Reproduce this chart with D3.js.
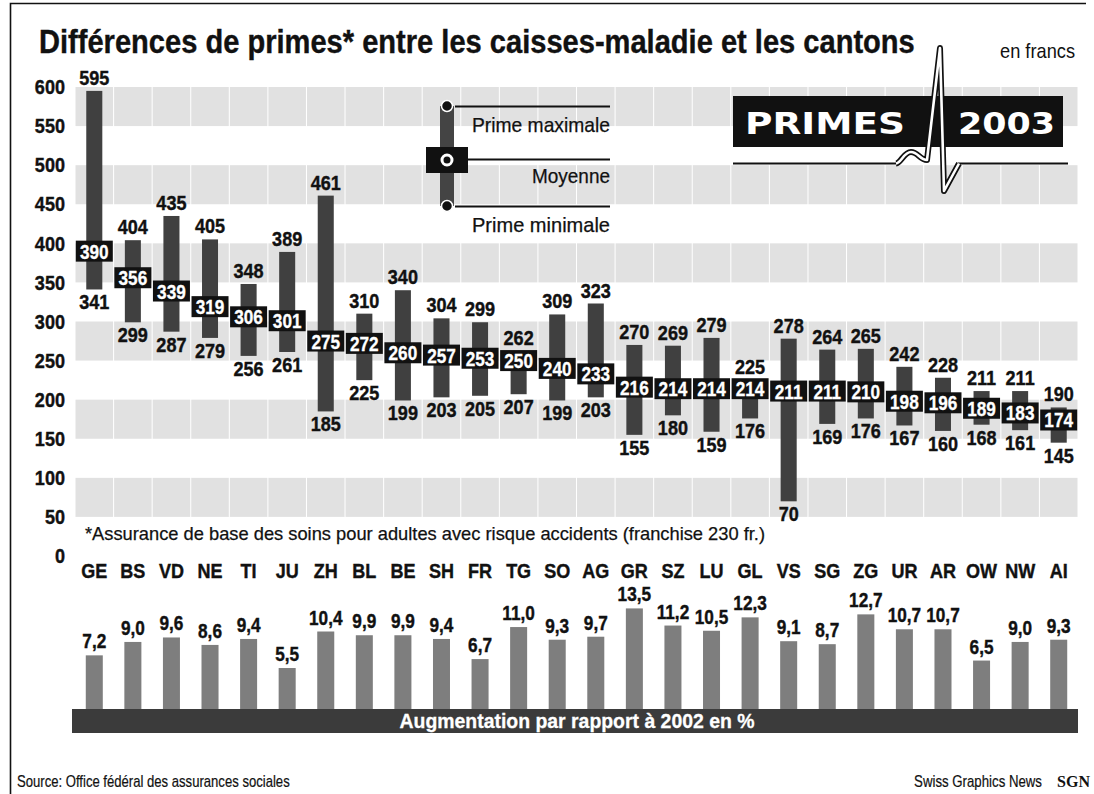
<!DOCTYPE html>
<html>
<head>
<meta charset="utf-8">
<script src="https://cdn.jsdelivr.net/npm/d3@7"></script>
<style>
  html, body { margin: 0; padding: 0; background: #fff; }
  svg { display: block; }
</style>
</head>
<body>
<div id="chart"></div>
<script>
// Cantons, ordered by average premium
const cantons = ["GE","BS","VD","NE","TI","JU","ZH","BL","BE","SH","FR","TG","SO","AG","GR","SZ","LU","GL","VS","SG","ZG","UR","AR","OW","NW","AI"];
// Monthly premiums in francs
const primeMax = [595,404,435,405,348,389,461,310,340,304,299,262,309,323,270,269,279,225,278,264,265,242,228,211,211,190];
const primeMoy = [390,356,339,319,306,301,275,272,260,257,253,250,240,233,216,214,214,214,211,211,210,198,196,189,183,174];
const primeMin = [341,299,287,279,256,261,185,225,199,203,205,207,199,203,155,180,159,176,70,169,176,167,160,168,161,145];
// Increase compared with 2002, in percent
const hausse = [7.2,9.0,9.6,8.6,9.4,5.5,10.4,9.9,9.9,9.4,6.7,11.0,9.3,9.7,13.5,11.2,10.5,12.3,9.1,8.7,12.7,10.7,10.7,6.5,9.0,9.3];
// Axis ticks
const yTicks = [0,50,100,150,200,250,300,350,400,450,500,550,600];
const bandStarts = [550,450,350,250,150,50];

const W = 1094, H = 794;
const SANS = "'Liberation Sans',Arial,Helvetica,sans-serif";

const rows = cantons.map((c, i) => ({ c, max: primeMax[i], moy: primeMoy[i], min: primeMin[i], h: hausse[i] }));

const svg = d3.select("#chart").append("svg").attr("width", W).attr("height", H)
  .style("font-family", SANS);

// Squeeze text horizontally to a condensed look
function condense(sel, k) {
  sel.each(function () {
    const w = this.getComputedTextLength();
    d3.select(this).attr("textLength", w * k).attr("lengthAdjust", "spacingAndGlyphs");
  });
  return sel;
}
// Fit a text to a given width by scaling it horizontally around its anchor
function fitWidth(text, x0, y0, width, anchor) {
  text.attr("x", 0).attr("y", 0).attr("text-anchor", anchor || "start");
  const w = text.node().getComputedTextLength();
  text.attr("transform", `translate(${x0},${y0}) scale(${width / w},1)`);
  return text;
}

// Print grain for the tinted areas
const defs = svg.append("defs");
function grain(id, rgb, a, b, freq) {
  const f = defs.append("filter").attr("id", id).attr("x", 0).attr("y", 0).attr("width", "100%").attr("height", "100%")
    .attr("color-interpolation-filters", "sRGB");
  f.append("feTurbulence").attr("type", "fractalNoise").attr("baseFrequency", freq).attr("numOctaves", 2).attr("seed", 7).attr("result", "noise");
  f.append("feColorMatrix").attr("in", "noise").attr("type", "matrix")
    .attr("values", `0 0 0 0 ${rgb}  0 0 0 0 ${rgb}  0 0 0 0 ${rgb}  ${a} 0 0 0 ${b}`).attr("result", "spk");
  f.append("feComposite").attr("in", "spk").attr("in2", "SourceGraphic").attr("operator", "in").attr("result", "spkIn");
  const m = f.append("feMerge");
  m.append("feMergeNode").attr("in", "SourceGraphic");
  m.append("feMergeNode").attr("in", "spkIn");
}
grain("grainLight", 0, 1.1, -0.52, 1.0);
grain("grainDark", 1, 1.3, -0.55, 1.0);
grain("grainMid", 0, 1.2, -0.53, 1.0);

// Scales
const x = d3.scaleBand().domain(cantons).range([75, 1078]).padding(0);
const y = d3.scaleLinear().domain([0, 600]).range([556, 87]);
const yInc = d3.scaleLinear().domain([0, 10]).range([709, 634.5]);
const cx = c => x(c) + x.bandwidth() / 2;

// Frame
svg.append("path").attr("d", "M10.5,794 V3.5 H1086").attr("fill", "none").attr("stroke", "#111").attr("stroke-width", 1.6);

// Background bands, one cell per canton
const bandG = svg.append("g");
bandStarts.forEach(v => {
  bandG.selectAll(null).data(cantons).join("rect")
    .attr("x", c => x(c) + 0.5).attr("width", x.bandwidth() - 1)
    .attr("y", y(v + 50)).attr("height", y(v) - y(v + 50))
    .attr("fill", "#e9e9e9").attr("filter", "url(#grainLight)");
});

// Title
fitWidth(svg.append("text")
  .style("font-size", "33px").style("font-weight", "bold").attr("fill", "#111")
  .attr("stroke", "#111").attr("stroke-width", 0.4)
  .text("Différences de primes* entre les caisses-maladie et les cantons"), 39, 53, 876);
fitWidth(svg.append("text")
  .style("font-size", "20px").attr("fill", "#111").text("en francs"), 1075, 58, 75, "end");

// Logo
const logo = svg.append("g");
logo.append("rect").attr("x", 733).attr("y", 96).attr("width", 330).attr("height", 51).attr("fill", "#111");
logo.append("text").attr("x", 745).attr("y", 134).attr("textLength", 160).attr("lengthAdjust", "spacingAndGlyphs")
  .style("font-family", "'DejaVu Sans',sans-serif").style("font-weight", "bold").style("font-size", "31px")
  .attr("fill", "#fff").text("PRIMES");
logo.append("text").attr("x", 958).attr("y", 134).attr("textLength", 97).attr("lengthAdjust", "spacingAndGlyphs")
  .style("font-family", "'DejaVu Sans',sans-serif").style("font-weight", "bold").style("font-size", "31px")
  .attr("fill", "#fff").text("2003");
logo.append("path").attr("d", "M733,163.5 H898 M958,163.5 H1068").attr("stroke", "#111").attr("stroke-width", 2.2).attr("fill", "none");
const beat = "M896,163.5 C901,163 904,152 911,152 C918,152 920,160 927,160 L940,48 L944,191 L959,163.5";
logo.append("path").attr("d", beat).attr("stroke", "#111").attr("stroke-width", 6).attr("fill", "none").attr("stroke-linejoin", "round");
logo.append("path").attr("d", beat).attr("stroke", "#fff").attr("stroke-width", 2.6).attr("fill", "none").attr("stroke-linejoin", "round");

// Legend
const lg = svg.append("g").attr("fill", "#111");
lg.append("rect").attr("x", 440).attr("y", 106).attr("width", 14).attr("height", 100).attr("fill", "#303030").attr("filter", "url(#grainDark)");
lg.append("circle").attr("cx", 447).attr("cy", 106).attr("r", 5.5).attr("fill", "#111").attr("stroke", "#fff").attr("stroke-width", 1.5);
lg.append("circle").attr("cx", 447).attr("cy", 206).attr("r", 5.5).attr("fill", "#111").attr("stroke", "#fff").attr("stroke-width", 1.5);
lg.append("rect").attr("x", 426).attr("y", 147).attr("width", 42).attr("height", 26).attr("fill", "#111");
lg.append("circle").attr("cx", 447).attr("cy", 160).attr("r", 5).attr("fill", "#111").attr("stroke", "#fff").attr("stroke-width", 3);
lg.append("path").attr("d", "M455,106.5 H610 M468,159.5 H610 M455,206.5 H610").attr("stroke", "#111").attr("stroke-width", 1.8);
[["Prime maximale", 132, 138], ["Moyenne", 183, 78], ["Prime minimale", 232, 138]].forEach(([t, yy, L]) => {
  lg.append("text").attr("x", 610).attr("y", yy).attr("text-anchor", "end")
    .attr("textLength", L).attr("lengthAdjust", "spacingAndGlyphs")
    .attr("stroke", "#111").attr("stroke-width", 0.25)
    .style("font-size", "21px").text(t);
});

// Y axis
const yAxis = svg.append("g").attr("transform", "translate(65,0)")
  .call(d3.axisLeft(y).tickValues(yTicks).tickSize(0).tickPadding(0));
yAxis.select(".domain").remove();
yAxis.selectAll("text").style("font-family", SANS).style("font-size", "21px").style("font-weight", "bold")
  .attr("fill", "#111").attr("stroke", "#111").attr("stroke-width", 0.4);
condense(yAxis.selectAll("text"), 0.86);

// Range bars (min to max)
const bw = 16;
svg.append("g").selectAll("rect").data(rows).join("rect")
  .attr("x", d => cx(d.c) - bw / 2).attr("width", bw)
  .attr("y", d => y(d.max)).attr("height", d => y(d.min) - y(d.max))
  .attr("fill", "#2c2c2c").attr("filter", "url(#grainDark)");

const lbl = svg.append("g").style("font-size", "21px").style("font-weight", "bold")
  .attr("fill", "#111").attr("stroke", "#111").attr("stroke-width", 0.4).attr("text-anchor", "middle");
condense(lbl.selectAll(".mx").data(rows).join("text").attr("class", "mx")
  .attr("x", d => cx(d.c)).attr("y", d => y(d.max) - 6).text(d => d.max), 0.86);
condense(lbl.selectAll(".mn").data(rows).join("text").attr("class", "mn")
  .attr("x", d => cx(d.c)).attr("y", d => y(d.min) + 20).text(d => d.min), 0.86);

// Average boxes
const bx = svg.append("g");
bx.selectAll("rect").data(rows).join("rect")
  .attr("x", d => cx(d.c) - 18.5).attr("width", 37)
  .attr("y", d => y(d.moy) - 10.5).attr("height", 21).attr("fill", "#111");
condense(bx.selectAll("text").data(rows).join("text")
  .attr("x", d => cx(d.c)).attr("y", d => y(d.moy) + 7.5).attr("text-anchor", "middle")
  .style("font-size", "20px").style("font-weight", "bold").attr("fill", "#fff")
  .attr("stroke", "#fff").attr("stroke-width", 0.3).text(d => d.moy), 0.86);

// Footnote
svg.append("text").attr("x", 85).attr("y", 540).attr("textLength", 680).attr("lengthAdjust", "spacingAndGlyphs")
  .style("font-size", "19px").attr("fill", "#111").attr("stroke", "#111").attr("stroke-width", 0.25)
  .text("*Assurance de base des soins pour adultes avec risque accidents (franchise 230 fr.)");

// Canton labels
condense(svg.append("g").selectAll("text").data(cantons).join("text")
  .attr("x", c => cx(c)).attr("y", 578).attr("text-anchor", "middle")
  .style("font-size", "20px").style("font-weight", "bold").attr("fill", "#111")
  .attr("stroke", "#111").attr("stroke-width", 0.4).text(c => c), 0.9);

// Increase bars
svg.append("g").selectAll("rect").data(rows).join("rect")
  .attr("x", d => cx(d.c) - 8.5).attr("width", 17)
  .attr("y", d => yInc(d.h)).attr("height", d => yInc(0) - yInc(d.h))
  .attr("fill", "#888").attr("filter", "url(#grainMid)");
condense(svg.append("g").selectAll("text").data(rows).join("text")
  .attr("x", d => cx(d.c)).attr("y", d => yInc(d.h) - 7).attr("text-anchor", "middle")
  .style("font-size", "20px").style("font-weight", "bold").attr("fill", "#111")
  .attr("stroke", "#111").attr("stroke-width", 0.4)
  .text(d => d3.format(".1f")(d.h).replace(".", ",")), 0.86);

// Bottom strip
svg.append("rect").attr("x", 72).attr("y", 709).attr("width", 1006).attr("height", 24)
  .attr("fill", "#262626").attr("filter", "url(#grainDark)");
svg.append("text").attr("x", 577).attr("y", 728).attr("text-anchor", "middle")
  .attr("textLength", 355).attr("lengthAdjust", "spacingAndGlyphs")
  .style("font-size", "21px").style("font-weight", "bold").attr("fill", "#fff")
  .attr("stroke", "#fff").attr("stroke-width", 0.3)
  .text("Augmentation par rapport à 2002 en %");

// Footer
fitWidth(svg.append("text")
  .style("font-size", "16px").attr("fill", "#111").attr("stroke", "#111").attr("stroke-width", 0.2)
  .text("Source: Office fédéral des assurances sociales"), 17, 787, 273);
fitWidth(svg.append("text")
  .style("font-size", "16px").attr("fill", "#111").attr("stroke", "#111").attr("stroke-width", 0.2)
  .text("Swiss Graphics News"), 1042, 787, 128, "end");
svg.append("text").attr("x", 1090).attr("y", 787).attr("text-anchor", "end")
  .style("font-family", "'Liberation Serif',serif").style("font-weight", "bold").style("font-size", "16px")
  .attr("fill", "#111").text("SGN");
</script>
</body>
</html>
